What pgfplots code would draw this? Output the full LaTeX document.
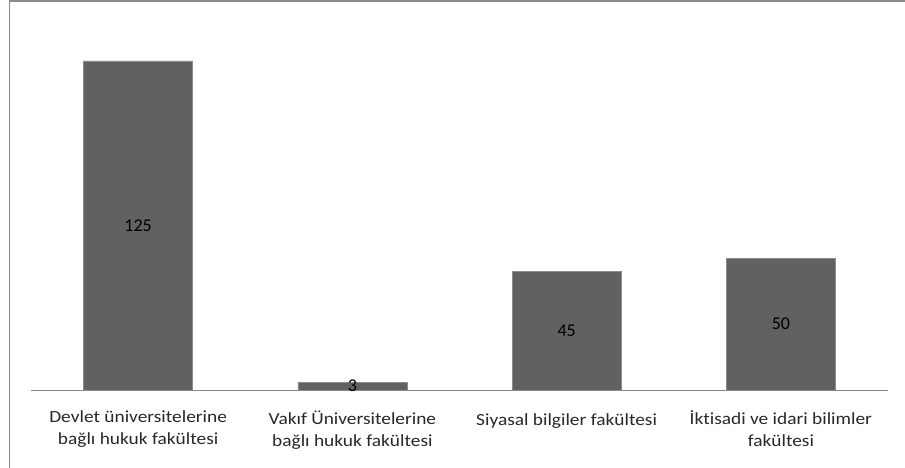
\documentclass[border=0pt]{standalone}
\usepackage{fontspec}
\setmainfont{Carlito}[Ligatures={NoCommon}]
\newfontfamily\lblfont[FakeStretch=1.14,Ligatures={NoCommon}]{Carlito}
\usepackage{pgfplots}
\pgfplotsset{compat=1.18}
\definecolor{barc}{RGB}{97,97,97}
\definecolor{bare}{RGB}{140,140,140}
\definecolor{framec}{RGB}{138,138,138}
\definecolor{txt}{RGB}{40,40,40}
\begin{document}
\begin{tikzpicture}
\path[use as bounding box] (0pt,0pt) rectangle (905pt,468pt);
\draw[framec, line width=1.6pt] (9.5pt,0pt) -- (9.5pt,466.7pt) -- (905pt,466.7pt);
\begin{axis}[
  at={(31pt,78pt)}, anchor=south west,
  scale only axis, width=857pt, height=368.5pt,
  xmin=-0.5, xmax=3.5, ymin=0, ymax=140,
  ybar, bar width=109pt,
  axis x line*=bottom, axis y line=none,
  x axis line style={draw=framec, line width=0.9pt},
  xtick=data, major tick length=0pt,
  ytick=\empty,
  xticklabels={{Devlet üniversitelerine\\bağlı hukuk fakültesi},{Vakıf Üniversitelerine\\bağlı hukuk fakültesi},{\strut Siyasal bilgiler fakültesi},{İktisadi ve idari bilimler\\fakültesi}},
  xticklabel style={align=center, font=\lblfont\fontsize{17}{22}\selectfont, text=txt, anchor=north, yshift=-17pt},
  nodes near coords={\pgfmathprintnumber[assume math mode=true]{\pgfplotspointmeta}},
  visualization depends on={rawy \as \rawy},
  every node near coord/.append style={anchor=center, yshift={-1.316*\rawy}, font=\fontsize{18}{20}\selectfont, text=black},
  clip=false,
]
\addplot[fill=barc, draw=bare, line width=0.6pt] coordinates {(0,125) (1,3) (2,45) (3,50)};
\end{axis}
\end{tikzpicture}
\end{document}
